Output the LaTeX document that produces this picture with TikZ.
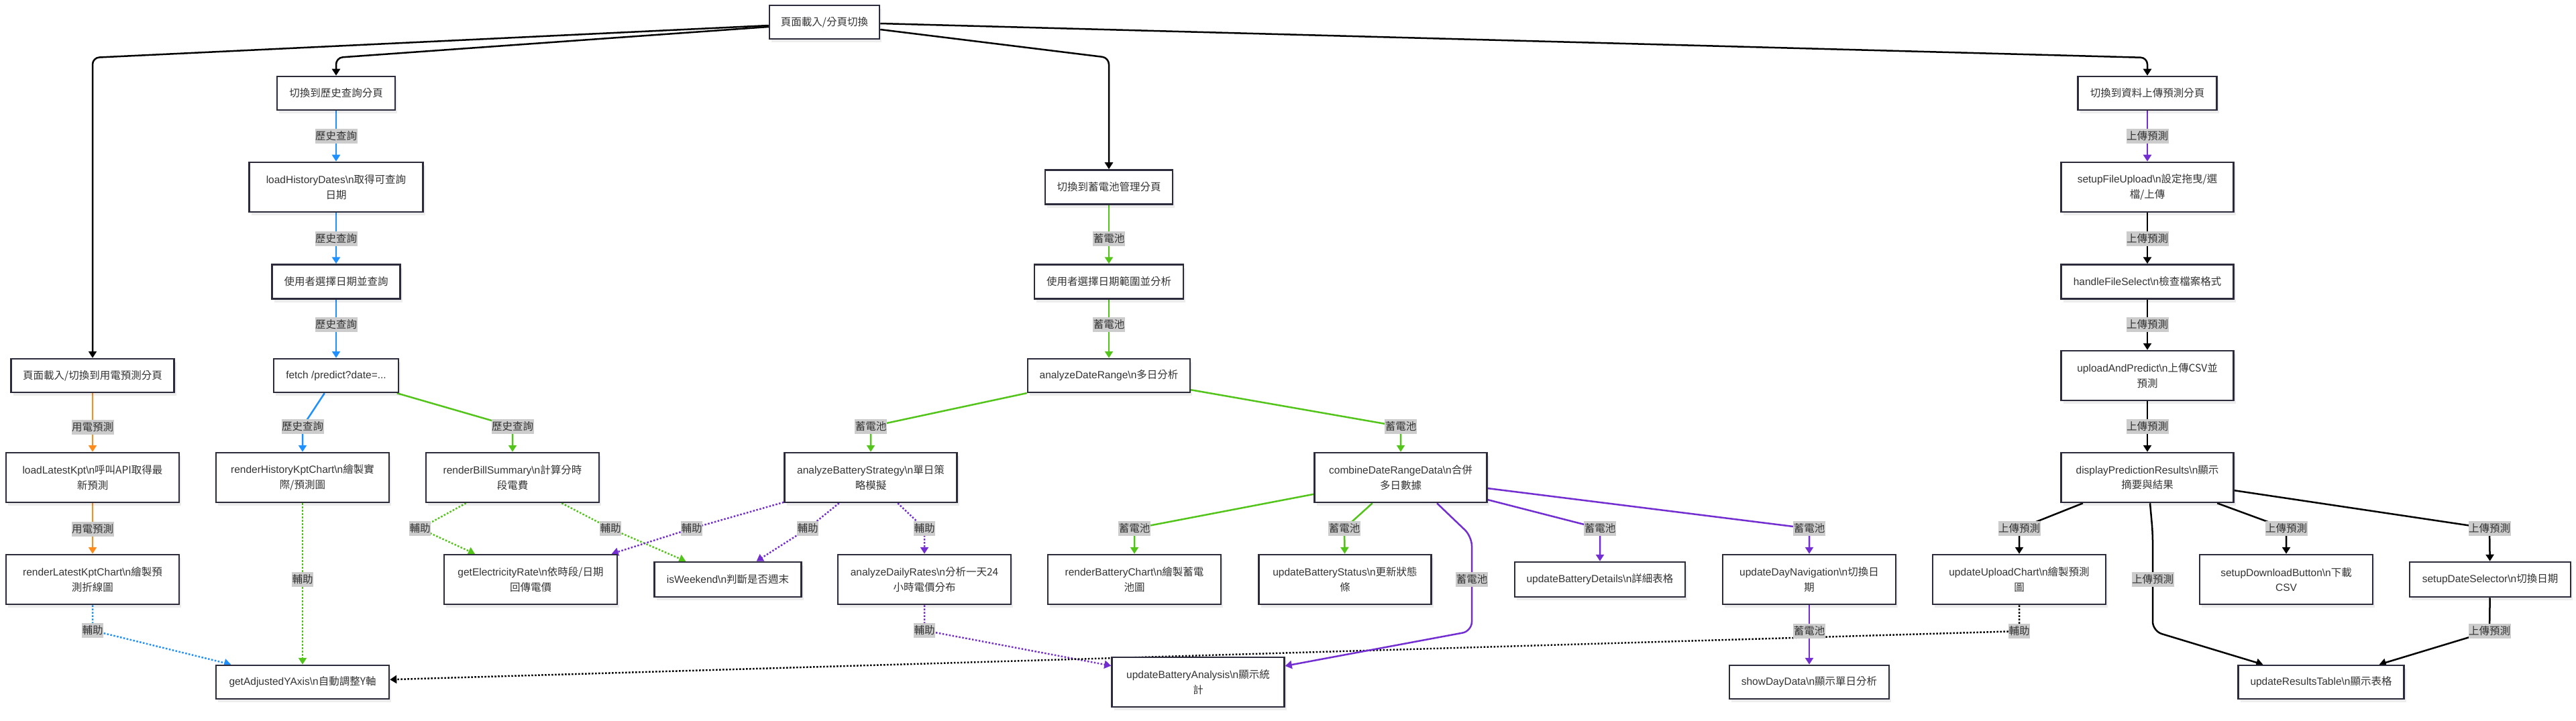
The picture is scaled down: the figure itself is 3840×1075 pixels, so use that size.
\documentclass[tikz,border=0pt]{standalone}
\usepackage{fontspec}
\setmainfont{Liberation Sans}
\newfontfamily\cjk{Noto Sans CJK TC}
\usetikzlibrary{arrows.meta,shadows}
\newcommand\zh[1]{{\cjk #1}}
\newcommand\bsn{\textbackslash n}
\newcommand\nodefont{\fontsize{15.5}{22.5}\selectfont}
\definecolor{cblue}{HTML}{1E90FF}
\definecolor{corange}{HTML}{FF8C1A}
\definecolor{cgreen}{HTML}{52C41A}
\definecolor{cpurple}{HTML}{722ED1}
\definecolor{lblgray}{HTML}{CCCCCC}
\definecolor{bordercol}{HTML}{2B2B3B}
\definecolor{txt}{HTML}{333333}
\pgfdeclarelayer{bg}
\pgfdeclarelayer{edges}
\pgfsetlayers{bg,edges,main}
\tikzset{
  box/.style={draw=bordercol, line width=2.5pt, fill=white, align=center, inner sep=0pt,
    text=txt, font=\nodefont,
    drop shadow={shadow xshift=3pt, shadow yshift=-5pt, fill=black, opacity=0.07}},
  sz/.style 2 args={minimum width=#1pt, minimum height=#2pt},
  lbl/.style={fill=lblgray, text=txt, inner xsep=0.5pt, inner ysep=0pt, minimum height=22pt,
    font=\nodefont\cjk},
  edg/.style={line width=2.5pt, -{Triangle[length=10pt,width=12pt]}},
  dotl/.style={edg, dash pattern=on 2.5pt off 2.5pt},
  blk/.style={edg, draw=black},
  blu/.style={edg, draw=cblue, -{Triangle[length=10pt,width=12pt,fill=cblue]}},
  grn/.style={edg, draw=cgreen},
  org/.style={edg, draw=corange},
  pur/.style={edg, draw=cpurple},
}
\begin{document}
\begin{tikzpicture}[x=1pt,y=-1pt]
\begin{pgfonlayer}{bg}
\fill[white] (0,0) rectangle (3840,1075);
\end{pgfonlayer}
\useasboundingbox (0,0) rectangle (3840,1075);

% ---------- nodes ----------
\node[box,sz={164}{50}] (top) at (1229,33) {\zh{頁面載入/分頁切換}};
\node[box,sz={176}{50}] (hs) at (501,139) {\zh{切換到歷史查詢分頁}};
\node[box,sz={259}{74}] (lhd) at (501,279) {loadHistoryDates\bsn\zh{取得可查詢}\\\zh{日期}};
\node[box,sz={191}{51}] (usq) at (501,420) {\zh{使用者選擇日期並查詢}};
\node[box,sz={186}{50}] (fetch) at (501,560) {fetch /predict?date=...};
\node[box,sz={258}{74}] (rhk) at (451,712) {renderHistoryKptChart\bsn\zh{繪製實}\\\zh{際/預測圖}};
\node[box,sz={258}{74}] (rbs) at (764,712) {renderBillSummary\bsn\zh{計算分時}\\\zh{段電費}};
\node[box,sz={243}{50}] (pl) at (138,560) {\zh{頁面載入/切換到用電預測分頁}};
\node[box,sz={258}{74}] (llk) at (138,712) {loadLatestKpt\bsn\zh{呼叫API取得最}\\\zh{新預測}};
\node[box,sz={258}{74}] (rlk) at (138,864) {renderLatestKptChart\bsn\zh{繪製預}\\\zh{測折線圖}};
\node[box,sz={258}{74}] (ger) at (791,864) {getElectricityRate\bsn\zh{依時段/日期}\\\zh{回傳電價}};
\node[box,sz={219}{52}] (isw) at (1085,864) {isWeekend\bsn\zh{判斷是否週末}};
\node[box,sz={258}{50}] (gay) at (451,1017) {getAdjustedYAxis\bsn\zh{自動調整Y軸}};
\node[box,sz={190}{51}] (bs) at (1653,279) {\zh{切換到蓄電池管理分頁}};
\node[box,sz={222}{51}] (usr) at (1653,420) {\zh{使用者選擇日期範圍並分析}};
\node[box,sz={242}{50}] (adr) at (1653,560) {analyzeDateRange\bsn\zh{多日分析}};
\node[box,sz={257}{74}] (abs) at (1298,712) {analyzeBatteryStrategy\bsn\zh{單日策}\\\zh{略模擬}};
\node[box,sz={257}{74}] (cdr) at (2088,712) {combineDateRangeData\bsn\zh{合併}\\\zh{多日數據}};
\node[box,sz={258}{74}] (adrt) at (1378,864) {analyzeDailyRates\bsn\zh{分析一天24}\\\zh{小時電價分布}};
\node[box,sz={258}{74}] (rbc) at (1691,864) {renderBatteryChart\bsn\zh{繪製蓄電}\\\zh{池圖}};
\node[box,sz={257}{74}] (ubs) at (2005,864) {updateBatteryStatus\bsn\zh{更新狀態}\\\zh{條}};
\node[box,sz={254}{52}] (ubd) at (2385,864) {updateBatteryDetails\bsn\zh{詳細表格}};
\node[box,sz={257}{74}] (uba) at (1786,1017) {updateBatteryAnalysis\bsn\zh{顯示統}\\\zh{計}};
\node[box,sz={258}{74}] (udn) at (2697,864) {updateDayNavigation\bsn\zh{切換日}\\\zh{期}};
\node[box,sz={238}{50}] (sdd) at (2697,1017) {showDayData\bsn\zh{顯示單日分析}};
\node[box,sz={207}{50}] (up) at (3201,139) {\zh{切換到資料上傳預測分頁}};
\node[box,sz={257}{74}] (sfu) at (3201,279) {setupFileUpload\bsn\zh{設定拖曳/選}\\\zh{檔/上傳}};
\node[box,sz={257}{51}] (hfs) at (3201,420) {handleFileSelect\bsn\zh{檢查檔案格式}};
\node[box,sz={257}{74}] (uap) at (3201,560) {uploadAndPredict\bsn\zh{上傳CSV並}\\\zh{預測}};
\node[box,sz={257}{74}] (dpr) at (3201,712) {displayPredictionResults\bsn\zh{顯示}\\\zh{摘要與結果}};
\node[box,sz={258}{74}] (uuc) at (3010,864) {updateUploadChart\bsn\zh{繪製預測}\\\zh{圖}};
\node[box,sz={258}{74}] (sdb) at (3408,864) {setupDownloadButton\bsn\zh{下載}\\CSV};
\node[box,sz={240}{52}] (sds) at (3712,864) {setupDateSelector\bsn\zh{切換日期}};
\node[box,sz={247}{50}] (urt) at (3460,1017) {updateResultsTable\bsn\zh{顯示表格}};

% ---------- edge labels ----------
\node[lbl] (l1) at (501,203) {歷史查詢};
\node[lbl] (l2) at (501,356) {歷史查詢};
\node[lbl] (l3) at (501,484) {歷史查詢};
\node[lbl] (l4) at (451,636) {歷史查詢};
\node[lbl] (l5) at (764,636) {歷史查詢};
\node[lbl] (l6) at (138,637) {用電預測};
\node[lbl] (l7) at (138,789) {用電預測};
\node[lbl] (l8) at (138,940) {輔助};
\node[lbl] (l9) at (451,864) {輔助};
\node[lbl] (l10) at (626,788) {輔助};
\node[lbl] (l11) at (910,788) {輔助};
\node[lbl] (l12) at (1031,788) {輔助};
\node[lbl] (l13) at (1204,788) {輔助};
\node[lbl] (l14) at (1378,788) {輔助};
\node[lbl] (l15) at (1378,940) {輔助};
\node[lbl] (l16) at (1653,356) {蓄電池};
\node[lbl] (l17) at (1653,484) {蓄電池};
\node[lbl] (l18) at (1298,636) {蓄電池};
\node[lbl] (l19) at (2088,636) {蓄電池};
\node[lbl] (l20) at (1691,788) {蓄電池};
\node[lbl] (l21) at (2004,788) {蓄電池};
\node[lbl] (l22) at (2194,864) {蓄電池};
\node[lbl] (l23) at (2385,788) {蓄電池};
\node[lbl] (l24) at (2697,788) {蓄電池};
\node[lbl] (l25) at (2697,941) {蓄電池};
\node[lbl] (l26) at (3201,203) {上傳預測};
\node[lbl] (l27) at (3201,356) {上傳預測};
\node[lbl] (l28) at (3201,484) {上傳預測};
\node[lbl] (l29) at (3201,636) {上傳預測};
\node[lbl] (l30) at (3010,788) {上傳預測};
\node[lbl] (l31) at (3408,788) {上傳預測};
\node[lbl] (l32) at (3711,788) {上傳預測};
\node[lbl] (l33) at (3209,864) {上傳預測};
\node[lbl] (l34) at (3711,941) {上傳預測};
\node[lbl] (l35) at (3010,941) {輔助};

% ---------- bend points ----------
\coordinate (k1) at (138,86);
\coordinate (k2) at (501,86);
\coordinate (k3) at (1653,86);
\coordinate (k4) at (3201,86);
\coordinate (k5) at (2194,800);
\coordinate (k6) at (2194,941);
\coordinate (k7) at (3209,795);
\coordinate (k8) at (3209,941);

% ---------- edges ----------
\begin{pgfonlayer}{edges}
\draw[blk, rounded corners=10pt] ([yshift=-5pt]top.west) -- (k1) -- (pl);
\draw[blk, rounded corners=10pt] ([yshift=-7pt]top.west) -- (k2) -- (hs);
\draw[blk, rounded corners=10pt] ([yshift=-11pt]top.east) -- (k3) -- (bs);
\draw[blk, rounded corners=10pt] ([yshift=-2pt]top.east) -- (k4) -- (up);

% history (blue)
\draw[blu] (hs) -- (l1.center) -- (lhd);
\draw[blu] (lhd) -- (l2.center) -- (usq);
\draw[blu] (usq) -- (l3.center) -- (fetch);
\draw[blu] (fetch) -- (l4.center) -- (rhk);
\draw[grn] (fetch) -- (l5.center) -- (rbs);
% kpt (orange)
\draw[org] (pl) -- (l6.center) -- (llk);
\draw[org] (llk) -- (l7.center) -- (rlk);
% helpers
\draw[dotl, draw=cblue] (rlk) -- (l8.center) -- (gay);
\draw[dotl, draw=cgreen] (rhk) -- (l9.center) -- (gay);
\draw[dotl, draw=cgreen] (rbs) -- (l10.center) -- (ger);
\draw[dotl, draw=cgreen] (rbs) -- (l11.center) -- (isw);
\draw[dotl, draw=cpurple] (abs) -- (l12.center) -- (ger);
\draw[dotl, draw=cpurple] (abs) -- (l13.center) -- (isw);
\draw[dotl, draw=cpurple] (abs) -- (l14.center) -- (adrt);
\draw[dotl, draw=cpurple] (adrt) -- (l15.center) -- (uba);
\draw[dotl, draw=black] (uuc) -- (l35.center) -- (gay);
% battery
\draw[grn] (bs) -- (l16.center) -- (usr);
\draw[grn] (usr) -- (l17.center) -- (adr);
\draw[grn] (adr) -- (l18.center) -- (abs);
\draw[grn] (adr) -- (l19.center) -- (cdr);
\draw[grn] (cdr) -- (l20.center) -- (rbc);
\draw[grn] (cdr) -- (l21.center) -- (ubs);
\draw[pur, rounded corners=14pt] ([xshift=54pt]cdr.south) -- (k5) -- (l22.center) -- (k6) -- (uba);
\draw[pur] (cdr) -- (l23.center) -- (ubd);
\draw[pur] (cdr) -- (l24.center) -- (udn);
\draw[pur] (udn) -- (l25.center) -- (sdd);
% upload
\draw[pur] (up) -- (l26.center) -- (sfu);
\draw[blk] (sfu) -- (l27.center) -- (hfs);
\draw[blk] (hfs) -- (l28.center) -- (uap);
\draw[blk] (uap) -- (l29.center) -- (dpr);
\draw[blk] (dpr) -- (l30.center) -- (uuc);
\draw[blk] (dpr) -- (l31.center) -- (sdb);
\draw[blk] (dpr) -- (l32.center) -- (sds);
\draw[blk, rounded corners=14pt] ([xshift=4pt]dpr.south) -- (k7) -- (l33.center) -- (k8) -- (urt);
\draw[blk] (sds) -- (l34.center) -- (urt);
\end{pgfonlayer}
\end{tikzpicture}
\end{document}
